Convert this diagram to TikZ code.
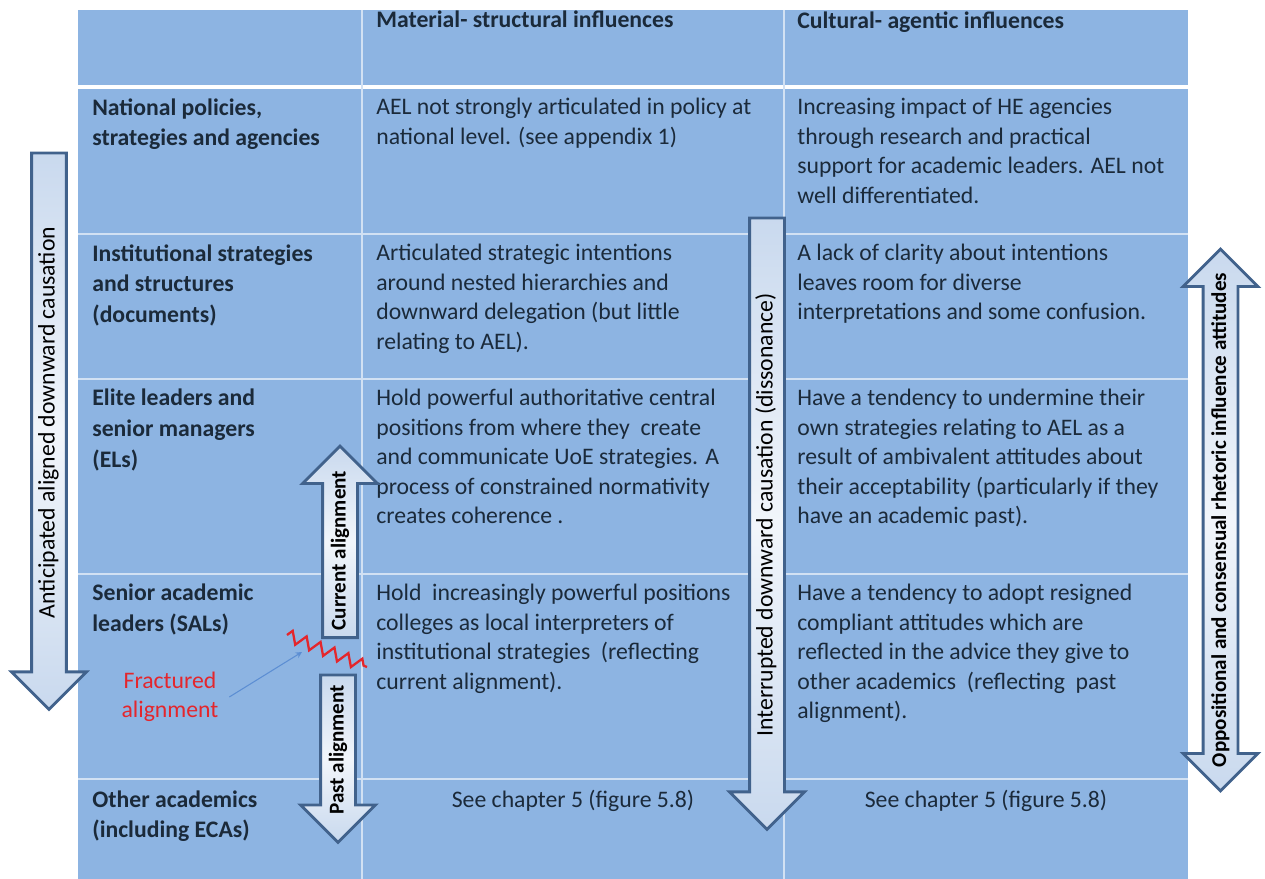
\documentclass[tikz,border=0pt]{standalone}
\usepackage{fontspec}
\setmainfont{Carlito}
\usetikzlibrary{arrows, shapes.arrows, decorations.pathmorphing}

\definecolor{cellblue}{HTML}{8DB4E2}
\definecolor{gridline}{HTML}{D2E1F3}
\definecolor{inktext}{HTML}{1B2A3A}
\definecolor{arrowline}{HTML}{41628C}
\definecolor{arrowfill}{HTML}{C9D9EE}
\definecolor{fracred}{HTML}{E4262C}
\definecolor{pointblue}{HTML}{5C8ED3}

\begin{document}
\begin{tikzpicture}[
  x=0.02cm, y=-0.02cm,
  >=stealth,
  font=\fontsize{13.5}{16.8}\selectfont,
  hdr/.style={anchor=north west, inner sep=0pt, align=left, text=inktext, font=\fontsize{13.5}{16.8}\selectfont\bfseries},
  rowhead/.style={hdr, font=\fontsize{13.5}{17.4}\selectfont\bfseries},
  body/.style={anchor=north west, inner sep=0pt, align=left, text=inktext},
  blockarrow/.style={single arrow, draw=arrowline, line width=1.6pt, top color=arrowfill, bottom color=arrowfill, middle color=white!75!arrowfill, single arrow head extend=0.4cm, single arrow tip angle=90, text height=0.3cm, text depth=0.08cm, inner xsep=0pt, inner ysep=0.13cm, text=black, rotate=90},
  twoway/.style={double arrow, draw=arrowline, line width=1.6pt, top color=arrowfill, bottom color=arrowfill, middle color=white!75!arrowfill, double arrow head extend=0.4cm, double arrow tip angle=90, text height=0.3cm, text depth=0.08cm, inner xsep=0pt, inner ysep=0.13cm, text=black, rotate=90},
  small/.style={font=\fontsize{12}{14}\selectfont\bfseries},
  fracture/.style={draw=fracred, line width=1.3pt, decorate, decoration={zigzag, segment length=0.3cm, amplitude=0.12cm}},
  pointer/.style={->, draw=pointblue, line width=0.6pt}
]
  \useasboundingbox (0,0) rectangle (1265,879);

  % table background and rules
  \fill[cellblue] (78,10) rectangle (1188,879);
  \draw[white, line width=2.4pt] (78,87) -- (1188,87);
  \draw[gridline, line width=1.1pt] (78,234) -- (1188,234);
  \draw[gridline, line width=1.1pt] (78,379) -- (1188,379);
  \draw[gridline, line width=1.1pt] (78,574) -- (1188,574);
  \draw[gridline, line width=1.1pt] (78,779) -- (1188,779);
  \draw[gridline, line width=1.1pt] (362,10) -- (362,879);
  \draw[gridline, line width=1.1pt] (784,10) -- (784,879);

  % header
  \node[hdr] (hmat) at (376,11) {Material- structural influences};
  \node[hdr] (hcul) at (797,11) {Cultural- agentic influences};

  % rows
  \node[rowhead] (rnat) at (92,98) {National policies,\\strategies and agencies};
  \node[body] (mnat) at (376,98) {AEL not strongly articulated in policy at\\national level. (see appendix 1)};
  \node[body] (cnat) at (797,98) {Increasing impact of HE agencies\\through research and practical\\support for academic leaders. AEL not\\well differentiated.};

  \node[rowhead] (rins) at (92,244) {Institutional strategies\\and structures\\(documents)};
  \node[body] (mins) at (376,244) {Articulated strategic intentions\\around nested hierarchies and\\downward delegation (but little\\relating to AEL).};
  \node[body] (cins) at (797,244) {A lack of clarity about intentions\\leaves room for diverse\\interpretations and some confusion.};

  \node[rowhead] (rel) at (92,389) {Elite leaders and\\senior managers\\(ELs)};
  \node[body] (mel) at (376,389) {Hold powerful authoritative central\\positions from where they\ \ create\\and communicate UoE strategies. A\\process of constrained normativity\\creates coherence .};
  \node[body] (cel) at (797,389) {Have a tendency to undermine their\\own strategies relating to AEL as a\\result of ambivalent attitudes about\\their acceptability (particularly if they\\have an academic past).};

  \node[rowhead] (rsal) at (92,584) {Senior academic\\leaders (SALs)};
  \node[body] (msal) at (376,584) {Hold\ \ increasingly powerful positions\\colleges as local interpreters of\\institutional strategies\ \ (reflecting\\current alignment).};
  \node[body] (csal) at (797,584) {Have a tendency to adopt resigned\\compliant attitudes which are\\reflected in the advice they give to\\other academics\ \ (reflecting\ \ past\\alignment).};

  \node[rowhead] (roth) at (92,790) {Other academics\\(including ECAs)};
  \node[body, anchor=north] (moth) at (573,790) {See chapter 5 (figure 5.8)};
  \node[body, anchor=north] (coth) at (986,790) {See chapter 5 (figure 5.8)};

  % block arrows
  \node[blockarrow, shape border rotate=180, minimum height=11.13cm, anchor=tail] (antic) at (49,151.5) {Anticipated aligned downward causation};
  \node[blockarrow, shape border rotate=180, minimum height=12.23cm, anchor=tail] (interr) at (767,216.5) {Interrupted downward causation (dissonance)};
  \node[blockarrow, small, minimum height=3.83cm, anchor=tail] (curr) at (340,639) {Current alignment};
  \node[blockarrow, small, shape border rotate=180, minimum height=3.35cm, anchor=tail] (past) at (338,673.5) {Past alignment};
  \node[twoway, font=\fontsize{12}{14}\selectfont\bfseries, minimum height=10.84cm] (oppos) at (1220.5,520) {Oppositional and consensual rhetoric influence attitudes};

  % fractured alignment
  \coordinate (breakA) at (287,635);
  \coordinate (breakB) at (367,667);
  \draw[fracture] (breakA) -- (breakB);
  \node[text=fracred, align=center, inner sep=6pt] (frac) at (170,697) {Fractured\\alignment};
  \coordinate (fracpt) at (302,652);
  \draw[pointer] (frac.east) -- (fracpt);

\end{tikzpicture}
\end{document}
